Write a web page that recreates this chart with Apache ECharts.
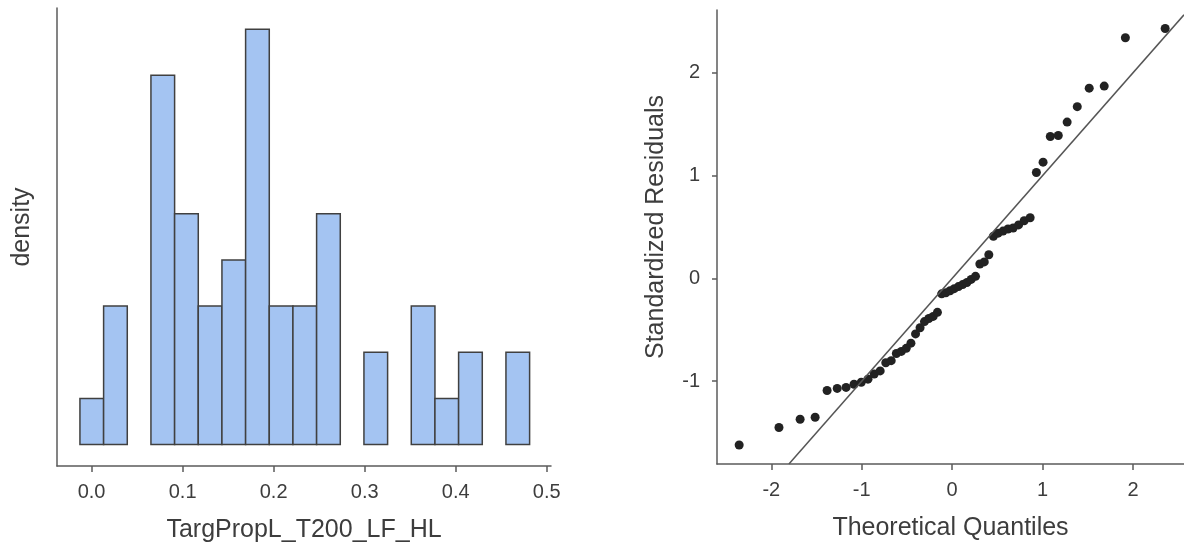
<!DOCTYPE html>
<html>
<head>
<meta charset="utf-8">
<script src="https://cdn.jsdelivr.net/npm/echarts@6/dist/echarts.min.js"></script>
<style>
html,body{margin:0;padding:0;background:#fff;}
#chart{width:1184px;height:548px;}
</style>
</head>
<body>
<div id="chart"></div>
<script>
// ---- Histogram data ----
const binEdges = [-0.0128, 0.0132, 0.0392, 0.0652, 0.0912, 0.1172, 0.1432, 0.1692, 0.1952, 0.2212,
                  0.2472, 0.2732, 0.2992, 0.3252, 0.3512, 0.3772, 0.4032, 0.4292, 0.4552, 0.4812];
const binCounts = [1, 3, 0, 8, 5, 3, 4, 9, 3, 3, 5, 0, 2, 0, 3, 1, 2, 0, 2];
const histXTicks = [0, 0.1, 0.2, 0.3, 0.4, 0.5];

// ---- Q-Q plot data ----
const theoQuantiles = [-2.355, -1.915, -1.681, -1.515, -1.383, -1.271, -1.173, -1.085, -1.005, -0.931,
  -0.862, -0.796, -0.734, -0.674, -0.617, -0.562, -0.508, -0.456, -0.405, -0.355,
  -0.306, -0.258, -0.210, -0.163, -0.116, -0.070, -0.023, 0.023, 0.070, 0.116,
  0.163, 0.210, 0.258, 0.306, 0.355, 0.405, 0.456, 0.508, 0.562, 0.617,
  0.674, 0.734, 0.796, 0.862, 0.931, 1.005, 1.085, 1.173, 1.271, 1.383,
  1.515, 1.681, 1.915, 2.355];
const stdResiduals = [-1.62, -1.45, -1.37, -1.35, -1.09, -1.07, -1.06, -1.03, -1.01, -0.98,
  -0.93, -0.90, -0.82, -0.80, -0.73, -0.71, -0.68, -0.63, -0.54, -0.48,
  -0.42, -0.39, -0.37, -0.33, -0.15, -0.14, -0.12, -0.10, -0.08, -0.06,
  -0.04, -0.01, 0.02, 0.14, 0.16, 0.23, 0.41, 0.44, 0.46, 0.48,
  0.49, 0.52, 0.56, 0.59, 1.03, 1.13, 1.38, 1.39, 1.52, 1.67,
  1.85, 1.87, 2.34, 2.43];
const qqXTicks = [-2, -1, 0, 1, 2];
const qqYTicks = [-1, 0, 1, 2];
const refLineX = [-1.805, 2.563];

// ---- Build ----
const histData = binCounts.map((c, i) => [binEdges[i], binEdges[i + 1], c]);
const qqData = theoQuantiles.map((q, i) => [q, stdResiduals[i]]);
const refData = refLineX.map(v => [v, v]);

const FONT = 'Liberation Sans, Arial, Helvetica, sans-serif';
const axisColor = '#5b5b5b';
const textColor = '#3d3d3d';

const chart = echarts.init(document.getElementById('chart'), null, {renderer: 'canvas'});

function baseAxis(extra) {
  return Object.assign({
    type: 'value',
    splitLine: {show: false},
    axisLine: {show: true, onZero: false, lineStyle: {color: axisColor, width: 1.5}},
    axisTick: {show: true, length: 6, lineStyle: {color: axisColor, width: 1.5}},
    axisLabel: {color: textColor, fontSize: 20, fontFamily: FONT},
    nameLocation: 'middle',
    nameTextStyle: {color: textColor, fontSize: 25, fontFamily: FONT}
  }, extra);
}

const option = {
  animation: false,
  backgroundColor: '#ffffff',
  grid: [
    {left: 57, right: 633, top: 8, bottom: 82, containLabel: false},
    {left: 717, right: 0, top: 10, bottom: 84, containLabel: false}
  ],
  xAxis: [
    baseAxis({
      gridIndex: 0, min: -0.038, max: 0.5047,
      name: 'TargPropL_T200_LF_HL', nameGap: 52,
      axisTick: {show: true, length: 6, customValues: histXTicks, lineStyle: {color: axisColor, width: 1.5}},
      axisLabel: {color: textColor, fontSize: 20, fontFamily: FONT, margin: 16,
                  customValues: histXTicks, formatter: v => v.toFixed(1)}
    }),
    baseAxis({
      gridIndex: 1, min: -2.6, max: 2.563,
      name: 'Theoretical Quantiles', nameGap: 52,
      axisTick: {show: true, length: 6, customValues: qqXTicks, lineStyle: {color: axisColor, width: 1.5}},
      axisLabel: {color: textColor, fontSize: 20, fontFamily: FONT, margin: 16,
                  customValues: qqXTicks, formatter: v => String(v)}
    })
  ],
  yAxis: [
    baseAxis({
      gridIndex: 0, min: -0.464, max: 9.458,
      name: 'density', nameGap: 22,
      nameTextStyle: {color: textColor, fontSize: 25, fontFamily: FONT, padding: [0, 0, 0, 20]},
      axisTick: {show: false},
      axisLabel: {show: false}
    }),
    baseAxis({
      gridIndex: 1, min: -1.805, max: 2.61,
      name: 'Standardized Residuals', nameGap: 48,
      nameTextStyle: {color: textColor, fontSize: 25, fontFamily: FONT, padding: [0, 0, 0, 20]},
      axisTick: {show: true, length: 5, customValues: qqYTicks, lineStyle: {color: axisColor, width: 1.5}},
      axisLabel: {color: textColor, fontSize: 20, fontFamily: FONT, margin: 17,
                  customValues: qqYTicks, formatter: v => String(v)}
    })
  ],
  series: [
    {
      type: 'custom',
      xAxisIndex: 0, yAxisIndex: 0,
      data: histData,
      encode: {x: [0, 1], y: 2},
      renderItem: function (params, api) {
        const c = api.value(2);
        if (!c) return null;
        const p0 = api.coord([api.value(0), c]);
        const p1 = api.coord([api.value(1), 0]);
        return {
          type: 'rect',
          shape: {x: p0[0], y: p0[1], width: p1[0] - p0[0], height: p1[1] - p0[1]},
          style: {fill: '#a4c4f2', stroke: '#404040', lineWidth: 1.5}
        };
      }
    },
    {
      type: 'line',
      xAxisIndex: 1, yAxisIndex: 1,
      data: refData,
      symbol: 'none',
      silent: true,
      clip: true,
      lineStyle: {color: '#555555', width: 1.5}
    },
    {
      type: 'scatter',
      xAxisIndex: 1, yAxisIndex: 1,
      data: qqData,
      symbol: 'circle',
      symbolSize: 9,
      itemStyle: {color: '#222222', opacity: 1}
    }
  ]
};
chart.setOption(option);
</script>
</body>
</html>
